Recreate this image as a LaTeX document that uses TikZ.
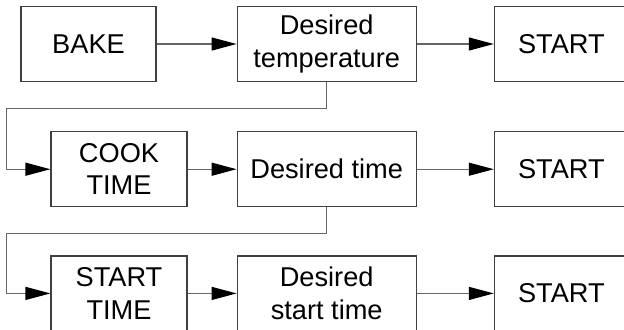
\documentclass[tikz,border=0pt]{standalone}
\usepackage{fontspec}
\setmainfont{Liberation Sans}
\usetikzlibrary{positioning,arrows.meta}

\begin{document}
\begin{tikzpicture}[auto,font=\fontsize{13.6}{16.2}\selectfont,
    line/.style={draw=black!60, line width=0.6pt, -{Triangle[length=12.5pt,width=6.5pt,black]}},
    stepbox/.style={draw=black!75, line width=0.6pt, align=center, inner sep=0pt, minimum height=37.5pt},
    ]
    \useasboundingbox (-44.25pt,22pt) rectangle (267.75pt,-142.5pt);

    % Place nodes
    \node [stepbox, minimum width=67.5pt] (bake) {BAKE};
    \node [stepbox, minimum width=89.5pt, right=40pt of bake] (temp) {Desired\\temperature};
    \node [stepbox, minimum width=67pt, right=38.5pt of temp] (start1) {START};

    \node [stepbox, minimum width=89.5pt, below=24.5pt of temp] (dtime) {Desired time};
    \node [stepbox, minimum width=68pt, left=24.5pt of dtime] (cook) {COOK\\TIME};
    \node [stepbox, minimum width=67pt, right=38.5pt of dtime] (start2) {START};

    \node [stepbox, minimum width=89.5pt, below=24pt of dtime] (dstart) {Desired\\start time};
    \node [stepbox, minimum width=68pt, left=24.5pt of dstart] (stime) {START\\TIME};
    \node [stepbox, minimum width=67pt, right=38.5pt of dstart] (start3) {START};

    % Draw edges
    \path [line] (bake) -- (temp);
    \path [line] (temp) -- (start1);
    \path [line] (temp.south) -- ++(0,-13pt) -| ([xshift=-22pt]cook.west) -- (cook.west);

    \path [line] (cook) -- (dtime);
    \path [line] (dtime) -- (start2);
    \path [line] (dtime.south) -- ++(0,-13pt) -| ([xshift=-22pt]stime.west) -- (stime.west);

    \path [line] (stime) -- (dstart);
    \path [line] (dstart) -- (start3);
\end{tikzpicture}
\end{document}
